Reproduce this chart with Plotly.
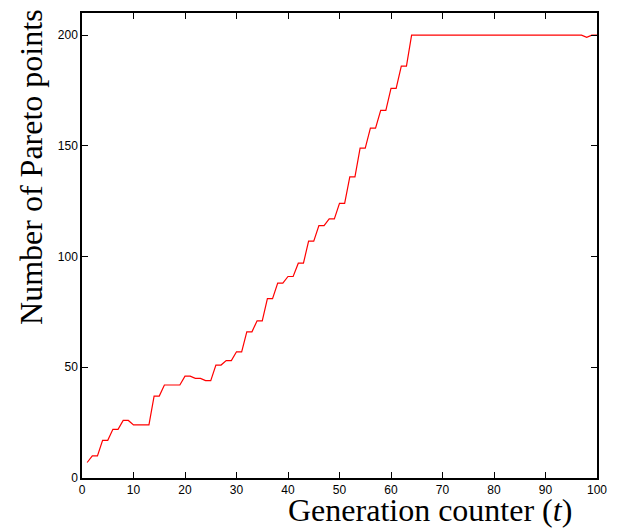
import plotly.graph_objects as go

generation = list(range(1, 101))
pareto_points = [
    7, 10, 10, 17, 17, 22, 22, 26, 26, 24,
    24, 24, 24, 37, 37, 42, 42, 42, 42, 46,
    46, 45, 45, 44, 44, 51, 51, 53, 53, 57,
    57, 66, 66, 71, 71, 81, 81, 88, 88, 91,
    91, 97, 97, 107, 107, 114, 114, 117, 117, 124,
    124, 136, 136, 149, 149, 158, 158, 166, 166, 176,
    176, 186, 186, 200, 200, 200, 200, 200, 200, 200,
    200, 200, 200, 200, 200, 200, 200, 200, 200, 200,
    200, 200, 200, 200, 200, 200, 200, 200, 200, 200,
    200, 200, 200, 200, 200, 200, 200, 199, 200, 200,
]
x_ticks = [0, 10, 20, 30, 40, 50, 60, 70, 80, 90, 100]
y_ticks = [0, 50, 100, 150, 200]

fig = go.Figure()
fig.add_trace(go.Scatter(
    x=generation, y=pareto_points, mode="lines",
    line=dict(color="#ff0000", width=1.2), showlegend=False,
))

axis_common = dict(
    showline=True, linecolor="black", linewidth=1.5, mirror="ticks",
    ticks="inside", ticklen=6, tickcolor="black", tickwidth=1,
    showgrid=False, zeroline=False,
    tickfont=dict(family="Liberation Sans, Arial, sans-serif", size=12, color="black"),
)
fig.update_xaxes(range=[0, 100], tickvals=x_ticks, **axis_common)
fig.update_yaxes(range=[0, 210], tickvals=y_ticks, **axis_common)

fig.update_layout(
    width=618, height=529,
    margin=dict(l=81.5, r=12.5, t=11, b=51),
    plot_bgcolor="white", paper_bgcolor="white",
    annotations=[
        dict(text="Generation counter (<i>t</i>)", xref="paper", yref="paper",
             x=0.675, y=-0.068, xanchor="center", yanchor="middle", showarrow=False,
             font=dict(family="Liberation Serif, serif", size=32, color="black")),
        dict(text="Number of Pareto points", xref="paper", yref="paper",
             x=-0.098, y=0.668, xanchor="center", yanchor="middle", showarrow=False,
             textangle=-90,
             font=dict(family="Liberation Serif, serif", size=32, color="black")),
    ],
)

fig.write_html(
    "out.html",
    config={"displayModeBar": False},
    post_script="document.body.style.margin='0px';document.body.style.overflow='hidden';",
)
